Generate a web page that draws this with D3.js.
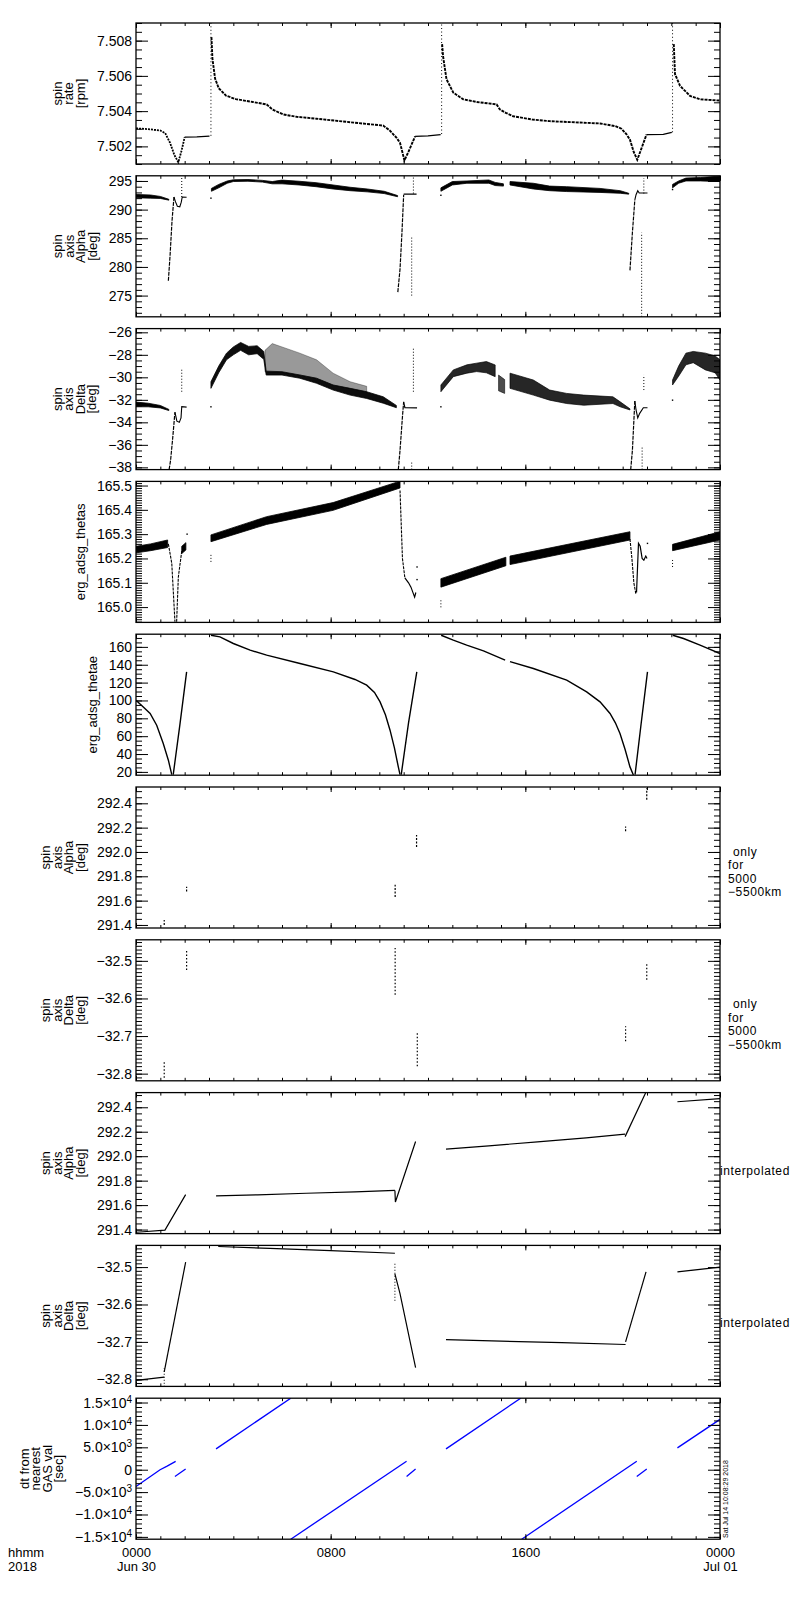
<!DOCTYPE html>
<html><head><meta charset="utf-8">
<script src="https://cdn.jsdelivr.net/npm/d3@7"></script>
<style>
body{margin:0;background:#fff}
text{font-family:"Liberation Sans",Arial,sans-serif}
</style>
</head><body>
<svg id="c" width="800" height="1600"></svg>
<script>
// ===== DATA (time in hours since 2018-06-30 00:00 UT) =====
// x-axis tick labels
const xTickHours = [0, 8, 16, 24];
// Panel 1: spin rate [rpm]
const rateTicks = [7.502, 7.504, 7.506, 7.508];
const rateSeg1 = [[0,7.50302],[0.5,7.50298],[1.0,7.5029],[1.2,7.50275],[1.4,7.5022],[1.58,7.5015],[1.74,7.5011],[1.88,7.5018],[2.0,7.50252]];
const rateFlat1 = [[2.0,7.50252],[2.5,7.50254],[3.02,7.50258]];
const rateSeg2 = [[3.1,7.5082],[3.14,7.5070],[3.18,7.50657],[3.25,7.50585],[3.4,7.5053],[3.7,7.50488],[4.1,7.50468],[4.8,7.50452],[5.37,7.50438],[5.6,7.5041],[6.05,7.50381],[6.6,7.50368],[7.42,7.50357],[8.8,7.50337],[10.16,7.50318],[10.43,7.5029],[10.7,7.5025],[10.85,7.5022],[10.96,7.5016],[11.03,7.5012],[11.2,7.5017],[11.47,7.50257]];
const rateFlat2 = [[11.47,7.50257],[12.0,7.5026],[12.52,7.50267]];
const rateSeg3 = [[12.58,7.5078],[12.62,7.5071],[12.76,7.50581],[13.04,7.50505],[13.45,7.50467],[14.0,7.50452],[14.82,7.50438],[14.95,7.5041],[15.2,7.5039],[15.5,7.50371],[16.3,7.50352],[17.0,7.50343],[19.07,7.5033],[19.7,7.50315],[19.95,7.5030],[20.15,7.5027],[20.3,7.50238],[20.45,7.5017],[20.6,7.50124],[20.75,7.5018],[20.98,7.50267]];
const rateFlat3 = [[20.98,7.50267],[21.67,7.50268],[22.02,7.5028]];
const rateSeg4 = [[22.1,7.5078],[22.15,7.5061],[22.36,7.50543],[22.77,7.50486],[23.18,7.50467],[24,7.5046]];
const rateSpikes = [[3.08,7.5026,7.509],[12.56,7.5027,7.509],[22.05,7.5028,7.509]];

// Panel 2: spin axis Alpha [deg]
const alphaTicks = [275, 280, 285, 290, 295];
const alphaBand1 = [[0,292.05,292.65],[0.6,292.0,292.55],[1.0,291.95,292.3],[1.35,291.65,291.8]];
const alphaDrop1 = [[1.33,277.6],[1.4,282],[1.48,288],[1.56,292.2]];
const alphaKink1 = [[1.56,292.2],[1.62,291.4],[1.7,290.6],[1.8,290.5],[1.86,291.3],[1.9,292.2],[2.08,292.15]];
const alphaBand2 = [[3.1,293.2,293.7],[3.4,293.8,294.4],[3.75,294.6,295.0],[4.0,294.9,295.2],[4.6,294.95,295.25],[5.2,294.8,295.1],[5.6,294.5,294.9],[6.0,294.5,295.15],[6.7,294.3,294.95],[7.4,294.0,294.7],[8.1,293.6,294.3],[8.8,293.3,293.9],[9.5,293.1,293.6],[10.2,292.8,293.2],[10.75,292.25,292.45]];
const alphaDrop2 = [[10.76,275.6],[10.85,279.6],[10.93,286],[11.0,292.6]];
const alphaFlat2 = [[11.0,292.7],[11.53,292.7]];
const alphaBand3a = [[12.53,293.2,293.8],[13.0,294.3,294.9],[13.6,294.6,295.0],[14.5,294.6,295.17],[14.76,294.2,294.75],[15.1,294.1,294.5]];
const alphaBand3b = [[15.37,294.3,294.9],[16.33,293.6,294.6],[17.0,293.3,294.1],[17.7,293.15,294.0],[19.07,293.0,293.7],[19.9,292.85,293.3],[20.25,292.7,292.85]];
const alphaDrop3 = [[20.3,279.4],[20.4,286],[20.5,291.7]];
const alphaKink3 = [[20.5,291.7],[20.55,292.6],[20.62,293.3],[20.68,292.9],[21.02,292.9]];
const alphaBand4 = [[22.05,293.8,294.4],[22.3,294.6,295.0],[22.6,295.0,295.5],[23.2,295.0,295.6],[24,294.9,295.85]];
const alphaSpikes = [[1.88,292.2,295.6],[11.40,292.8,295.6],[11.33,275.0,285.4],[20.87,292.8,295.5],[20.78,271.3,286]];
const alphaDots = [[3.08,292.0],[12.53,292.5],[22.05,293.5]];

// Panel 3: spin axis Delta [deg]
const deltaTicks = [-38, -36, -34, -32, -30, -28, -26];
const deltaBand1 = [[0,-32.62,-32.2],[0.5,-32.62,-32.3],[1.0,-32.72,-32.5],[1.35,-32.95,-32.85]];
const deltaDrop1 = [[1.36,-38.2],[1.42,-37.4],[1.5,-35.6],[1.6,-33.1]];
const deltaKink1 = [[1.6,-33.1],[1.68,-33.9],[1.78,-34.0],[1.85,-33.6],[1.88,-32.6],[2.08,-32.65]];
const deltaCore2 = [[3.08,-30.98,-30.39],[3.4,-29.6,-29.0],[3.72,-28.44,-27.85],[4.0,-28.0,-27.3],[4.3,-27.6,-26.9],[4.63,-28.0,-27.25],[4.98,-27.9,-27.2],[5.25,-28.4,-27.7],[5.35,-29.8,-29.45],[6.0,-29.8,-29.5],[6.73,-30.08,-29.79],[7.42,-30.53,-30.08],[8.1,-31.13,-30.68],[8.8,-31.58,-30.98],[9.48,-31.88,-31.28],[10.16,-32.3,-31.73],[10.7,-32.7,-32.5]];
const deltaCloud2 = [[5.3,-29.5,-27.6],[5.6,-29.6,-27.0],[6.0,-29.6,-27.3],[6.73,-29.8,-27.85],[7.42,-30.1,-28.44],[8.1,-30.7,-29.63],[8.8,-31.0,-30.39],[9.48,-31.3,-30.8]];
const deltaDrop2 = [[10.78,-38.2],[10.85,-36.5],[10.95,-33.5],[11.0,-32.17]];
const deltaFlat2 = [[11.0,-32.2],[11.05,-32.7],[11.55,-32.72]];
const deltaCore3a = [[12.53,-31.28,-30.68],[13.04,-29.94,-29.34],[13.6,-29.63,-28.89],[14.0,-29.49,-28.74],[14.4,-29.6,-28.6],[14.76,-29.94,-28.9]];
const deltaCore3b = [[14.9,-31.2,-29.8],[15.15,-31.43,-30.2]];
const deltaCore3c = [[15.37,-30.98,-29.63],[16.33,-31.58,-30.24],[17.0,-32.03,-31.13],[17.7,-32.33,-31.43],[18.4,-32.48,-31.58],[19.6,-32.33,-31.73],[19.9,-32.62,-32.18],[20.3,-32.9,-32.8]];
const deltaDrop3 = [[20.33,-38.2],[20.4,-36.5],[20.5,-32.1]];
const deltaKink3 = [[20.5,-32.1],[20.55,-32.9],[20.62,-33.6],[20.7,-33.2],[20.85,-32.7],[21.02,-32.7]];
const deltaCore4 = [[22.05,-30.68,-30.24],[22.3,-29.9,-29.0],[22.6,-28.89,-27.85],[22.9,-28.7,-27.7],[23.4,-29.34,-27.85],[23.8,-29.6,-28.1],[24,-30.24,-28.44]];
const deltaSpikes = [[1.88,-31.28,-29.19],[11.40,-31.28,-27.4],[11.33,-38.2,-37.5],[20.87,-31.13,-29.79],[20.8,-38.2,-36.2]];
const deltaDots = [[3.08,-32.62],[12.53,-32.62],[22.05,-32.03]];

// Panel 4: erg_adsg_thetas
const thetasTicks = [165.0, 165.1, 165.2, 165.3, 165.4, 165.5];
const thetasBand1 = [[0,165.223,165.25],[0.6,165.232,165.26],[1.3,165.245,165.276]];
const thetasV1a = [[1.33,165.26],[1.47,165.18],[1.6,164.94]];
const thetasV1b = [[1.67,164.94],[1.74,165.124],[1.88,165.23]];
const thetasBand1b = [[1.88,165.22,165.25],[2.05,165.235,165.265]];
const thetasBand2 = [[3.08,165.269,165.297],[5.37,165.34,165.372],[8.1,165.398,165.43],[10.85,165.49,165.518]];
const thetasV2a = [[10.85,165.48],[10.95,165.2],[11.05,165.12]];
const thetasV2b = [[11.05,165.12],[11.2,165.1],[11.3,165.082],[11.45,165.041],[11.5,165.06]];
const thetasBand3a = [[12.53,165.082,165.117],[15.2,165.17,165.205]];
const thetasBand3b = [[15.37,165.175,165.21],[20.3,165.276,165.31]];
const thetasV3a = [[20.3,165.28],[20.38,165.2],[20.46,165.1],[20.54,165.055]];
const thetasV3b = [[20.57,165.06],[20.65,165.262],[20.72,165.25],[20.8,165.2],[20.87,165.193],[20.95,165.21],[21.0,165.2]];
const thetasBand4 = [[22.05,165.232,165.258],[24,165.276,165.31]];
const thetasSpikes = [[3.08,165.186,165.22],[12.53,164.999,165.03],[22.05,165.165,165.2]];
const thetasDots = [[2.1,165.3],[11.55,165.165],[11.55,165.113],[21.02,165.262]];

// Panel 5: erg_adsg_thetae
const thetaeTicks = [20, 40, 60, 80, 100, 120, 140, 160];
const thetae1 = [[0,100.3],[0.3,92.8],[0.58,85.4],[0.85,72.3],[1.12,51.8],[1.33,33.1],[1.47,17.0]];
const thetae1r = [[1.53,17.0],[1.8,72],[2.08,132]];
const thetae2 = [[3.08,173],[3.45,171.2],[4.0,163.8],[4.69,156.3],[5.37,150.7],[6.74,141.4],[8.11,132],[9.0,123.5],[9.48,117.1],[9.8,109],[10.03,98.4],[10.25,84],[10.44,66.7],[10.62,47],[10.78,25.6],[10.85,17]];
const thetae2r = [[10.9,17],[11.2,75],[11.54,132]];
const thetae3a = [[12.54,173],[13.04,167.5],[13.59,161.9],[14.28,155.5],[15.17,145.1]];
const thetae3b = [[15.37,143.5],[16.33,135.8],[17.7,122.7],[18.52,109.6],[19.07,98.4],[19.48,85.4],[19.7,75],[19.89,63],[20.1,45],[20.3,25.6],[20.44,16.5]];
const thetae3r = [[20.51,17],[20.75,72],[21.02,132]];
const thetae4 = [[22.06,173],[22.5,169.4],[23.18,162],[24,152.6]];

// Panel 6: spin axis Alpha, only 5000-5500 km
const alpha2Ticks = [291.4, 291.6, 291.8, 292.0, 292.2, 292.4];
const alphaOnly = [[1.16,291.40,291.44],[2.08,291.674,291.715],[10.65,291.63,291.73],[11.53,292.04,292.14],[20.12,292.17,292.21],[20.99,292.43,292.524]];

// Panel 7: spin axis Delta, only 5000-5500 km
const delta2Ticks = [-32.8, -32.7, -32.6, -32.5];
const deltaOnly = [[1.16,-32.811,-32.767],[2.08,-32.524,-32.471],[10.65,-32.59,-32.466],[11.56,-32.78,-32.692],[20.12,-32.714,-32.674],[20.99,-32.55,-32.506]];

// Panel 8: spin axis Alpha, interpolated
const alphaInterp1 = [[0,291.378],[0.3,291.382],[1.19,291.395],[2.04,291.686]];
const alphaInterp2 = [[3.29,291.675],[5.0,291.684],[7.0,291.697],[9.0,291.709],[10.64,291.72]];
const alphaInterp3 = [[10.64,291.72],[10.66,291.625],[11.49,292.12]];
const alphaInterp4 = [[12.74,292.057],[14.5,292.085],[16.5,292.117],[18.5,292.15],[20.1,292.18]];
const alphaInterp5 = [[20.1,292.16],[20.95,292.52]];
const alphaInterp6 = [[22.25,292.445],[24,292.47]];

// Panel 9: spin axis Delta, interpolated
const deltaInterp1 = [[0,-32.803],[1.16,-32.794]];
const deltaInterp1r = [[1.16,-32.78],[2.04,-32.487]];
const deltaInterp2 = [[3.38,-32.445],[5.5,-32.45],[8.0,-32.456],[10.64,-32.463]];
const deltaInterp3 = [[10.64,-32.518],[10.85,-32.571],[11.49,-32.769]];
const deltaInterp4 = [[12.74,-32.694],[15.0,-32.698],[17.5,-32.702],[20.12,-32.707]];
const deltaInterp5 = [[20.12,-32.70],[20.96,-32.513]];
const deltaInterp6 = [[22.25,-32.513],[24,-32.5]];
const deltaInterpSpikes = [[1.16,-32.82,-32.77],[10.64,-32.59,-32.487]];

// Panel 10: dt from nearest GAS val [sec]
const dtTicks = [-15000, -10000, -5000, 0, 5000, 10000, 15000];
const dt1 = [[0,-3756],[0.99,0],[1.26,750],[1.63,1870]];
const dt2 = [[1.6,-1500],[2.04,150]];
const dt3 = [[3.29,4650],[6.36,15967]];
const dt4 = [[6.36,-15517],[11.12,1870]];
const dt5 = [[11.12,-1500],[11.49,150]];
const dt6 = [[12.74,4650],[15.81,15967]];
const dt7 = [[15.85,-15517],[20.58,1870]];
const dt8 = [[20.58,-1500],[20.99,150]];
const dt9 = [[22.25,4880],[24,11246]];

// ===== LAYOUT / STYLE =====
const H0 = Date.UTC(2018, 5, 30);
const T = h => new Date(H0 + h * 3600e3);
const X0 = 136, X1 = 720, PH = 141, PITCH = 152.8, TOP0 = 23;
const x = d3.scaleUtc().domain([T(0), T(24)]).range([X0, X1]);
const FONT = '"Liberation Sans",Arial,sans-serif';

const L = (data, w, dash) => ({type: "line", data, w: w || 1.2, dash});
const A = (data, op) => ({type: "area", data, op: op == null ? 1 : op});
const V = (data, w, dash) => ({type: "vseg", data, w: w || 1, dash: dash || "1,2"});
const D = (data) => ({type: "dots", data});

const f1 = d3.format(".1f"), f0 = d3.format("d"), f3 = d3.format(".3f");
const panels = [
  {domain:[7.501,7.509], major:rateTicks, minor:0.0005, fmt:f3, title:["spin","rate","[rpm]"],
   layers:[L(rateSeg1,1.8,"2,1"),L(rateFlat1,1.3),L(rateSeg2,1.9,"3,1"),L(rateFlat2,1.3),L(rateSeg3,1.9,"3,1"),L(rateFlat3,1.3),L(rateSeg4,1.9,"3,1"),V(rateSpikes,1,"1,2.5")]},
  {domain:[271.3,295.9], major:alphaTicks, minor:1, fmt:f0, title:["spin","axis","Alpha","[deg]"],
   layers:[A(alphaBand1),L(alphaDrop1,1.2,"4,1"),L(alphaKink1,1.1),A(alphaBand2),L(alphaDrop2,1.2,"4,1"),L(alphaFlat2,1.2),A(alphaBand3a),A(alphaBand3b),L(alphaDrop3,1.2,"4,1"),L(alphaKink3,1.1),A(alphaBand4),V(alphaSpikes),D(alphaDots)]},
  {domain:[-38.2,-25.67], major:deltaTicks, minor:0.5, fmt:f0, title:["spin","axis","Delta","[deg]"],
   layers:[A(deltaBand1),L(deltaDrop1,1.2,"4,1"),L(deltaKink1,1.1),A(deltaCloud2,0.4),A(deltaCore2,0.95),L(deltaDrop2,1.2,"4,1"),L(deltaFlat2,1.2),A(deltaCore3a,0.85),A(deltaCore3b,0.7),A(deltaCore3c,0.85),L(deltaDrop3,1.2,"4,1"),L(deltaKink3,1.1),A(deltaCore4,0.85),V(deltaSpikes),D(deltaDots)]},
  {domain:[164.937,165.517], major:thetasTicks, minor:0.01, fmt:f1, title:["erg_adsg_thetas"],
   layers:[A(thetasBand1),L(thetasV1a,1.1,"3,1"),L(thetasV1b,1.1,"3,1"),A(thetasBand1b),A(thetasBand2),L(thetasV2a,1.1,"3,1"),L(thetasV2b,1.2),A(thetasBand3a),A(thetasBand3b),L(thetasV3a,1.1,"3,1"),L(thetasV3b,1.2),A(thetasBand4),V(thetasSpikes),D(thetasDots)]},
  {domain:[16.3,174.2], major:thetaeTicks, minor:5, fmt:f0, title:["erg_adsg_thetae"],
   layers:[L(thetae1,1.4),L(thetae1r,1.4),L(thetae2,1.4),L(thetae2r,1.4),L(thetae3a,1.4),L(thetae3b,1.4),L(thetae3r,1.4),L(thetae4,1.4)]},
  {domain:[291.375,292.534], major:alpha2Ticks, minor:0.05, fmt:f1, title:["spin","axis","Alpha","[deg]"],
   right:["only","for","5000","−5500km"], rightDy:-2, rightX:[733,728,728,728],
   layers:[V(alphaOnly,1.2,"2,1.5")]},
  {domain:[-32.819,-32.444], major:delta2Ticks, minor:0.01, fmt:f1, title:["spin","axis","Delta","[deg]"],
   right:["only","for","5000","−5500km"], rightDy:-2, rightX:[733,728,728,728],
   layers:[V(deltaOnly,1.2,"1.5,2")]},
  {domain:[291.367,292.52], major:alpha2Ticks, minor:0.05, fmt:f1, title:["spin","axis","Alpha","[deg]"],
   right:["interpolated"], rightDy:11.5, rightX:[720],
   layers:[L(alphaInterp1),L(alphaInterp2),L(alphaInterp3),L(alphaInterp4),L(alphaInterp5),L(alphaInterp6)]},
  {domain:[-32.819,-32.442], major:delta2Ticks, minor:0.01, fmt:f1, title:["spin","axis","Delta","[deg]"],
   right:["interpolated"], rightDy:11.5, rightX:[720],
   layers:[L(deltaInterp1),L(deltaInterp1r),L(deltaInterp2),L(deltaInterp3),L(deltaInterp4),L(deltaInterp5),L(deltaInterp6),V(deltaInterpSpikes,1,"1,2")]},
  {domain:[-15517,15967], major:dtTicks, minor:1000, sci:true, title:["dt from","nearest","GAS val","[sec]"], color:"#0000ff",
   layers:[L(dt1,1.3),L(dt2,1.3),L(dt3,1.3),L(dt4,1.3),L(dt5,1.3),L(dt6,1.3),L(dt7,1.3),L(dt8,1.3),L(dt9,1.3)]}
];

function sciParts(d){
  if (d === 0) return ["0", ""];
  const e = Math.floor(Math.log10(Math.abs(d)) + 1e-9);
  const m = d / Math.pow(10, e);
  return [(m < 0 ? "−" : "") + Math.abs(m).toFixed(1) + "×10", String(e)];
}
function minorTicks(dom, step){
  const lo = Math.min(...dom), hi = Math.max(...dom);
  return d3.range(Math.ceil(lo/step - 1e-9), Math.floor(hi/step + 1e-9) + 1).map(k => +(k*step).toFixed(6));
}

const svg = d3.select("#c");
const defs = svg.append("defs");
const xMajor = x.ticks(d3.utcHour.every(8));
const xMinor = x.ticks(d3.utcHour.every(1));

function styleAxis(g){
  g.select(".domain").remove();
  g.selectAll(".tick line").attr("stroke", "#000").attr("stroke-width", 1);
  g.attr("font-family", FONT).attr("font-size", 14);
  g.selectAll(".tick text").attr("fill", "#000");
}

panels.forEach((p, i) => {
  const top = TOP0 + i * PITCH, bot = top + PH;
  const y = d3.scaleLinear().domain(p.domain).range([bot, top]);
  const g = svg.append("g");
  const cid = "clip" + i;
  defs.append("clipPath").attr("id", cid).append("rect")
    .attr("x", X0).attr("y", top).attr("width", X1 - X0).attr("height", PH);
  const dg = g.append("g").attr("clip-path", `url(#${cid})`);
  const col = p.color || "#000";
  const px = d => x(T(d[0]));
  p.layers.forEach(Ly => {
    if (Ly.type === "line") {
      dg.append("path").datum(Ly.data)
        .attr("d", d3.line().x(px).y(d => y(d[1])))
        .attr("fill", "none").attr("stroke", col).attr("stroke-width", Ly.w)
        .attr("stroke-dasharray", Ly.dash || null);
    } else if (Ly.type === "area") {
      dg.append("path").datum(Ly.data)
        .attr("d", d3.area().x(px).y0(d => y(d[1])).y1(d => y(d[2])))
        .attr("fill", col).attr("fill-opacity", Ly.op)
        .attr("stroke", col).attr("stroke-width", 0.8).attr("stroke-opacity", Ly.op);
    } else if (Ly.type === "vseg") {
      dg.selectAll(null).data(Ly.data).join("line")
        .attr("x1", px).attr("x2", px)
        .attr("y1", d => y(d[1])).attr("y2", d => y(d[2]))
        .attr("stroke", col).attr("stroke-width", Ly.w).attr("stroke-dasharray", Ly.dash);
    } else if (Ly.type === "dots") {
      dg.selectAll(null).data(Ly.data).join("rect")
        .attr("x", d => px(d) - 0.7).attr("y", d => y(d[1]) - 0.7)
        .attr("width", 1.4).attr("height", 1.4).attr("fill", col);
    }
  });

  // minor y ticks (left/right)
  const mn = minorTicks(p.domain, p.minor);
  g.append("g").attr("transform", `translate(${X0},0)`)
    .call(d3.axisLeft(y).tickValues(mn).tickSizeInner(-6).tickSizeOuter(0).tickFormat(""))
    .call(styleAxis);
  g.append("g").attr("transform", `translate(${X1},0)`)
    .call(d3.axisRight(y).tickValues(mn).tickSizeInner(-6).tickSizeOuter(0).tickFormat(""))
    .call(styleAxis);
  // major y ticks
  const la = g.append("g").attr("transform", `translate(${X0},0)`)
    .call(d3.axisLeft(y).tickValues(p.major).tickSizeInner(-12).tickSizeOuter(0).tickPadding(4)
      .tickFormat(p.sci ? (() => "") : p.fmt))
    .call(styleAxis);
  if (p.sci) {
    la.selectAll(".tick text").each(function(d){
      const [m, e] = sciParts(d);
      const t = d3.select(this).text(m);
      if (e !== "") t.append("tspan").attr("dy", "-0.5em").attr("font-size", 10).text(e);
    });
  }
  g.append("g").attr("transform", `translate(${X1},0)`)
    .call(d3.axisRight(y).tickValues(p.major).tickSizeInner(-12).tickSizeOuter(0).tickFormat(""))
    .call(styleAxis);
  // x ticks top/bottom
  g.append("g").attr("transform", `translate(0,${bot})`)
    .call(d3.axisBottom(x).tickValues(xMinor).tickSizeInner(-3).tickSizeOuter(0).tickFormat(""))
    .call(styleAxis);
  g.append("g").attr("transform", `translate(0,${top})`)
    .call(d3.axisTop(x).tickValues(xMinor).tickSizeInner(-3).tickSizeOuter(0).tickFormat(""))
    .call(styleAxis);
  const last = i === panels.length - 1;
  const xb = g.append("g").attr("transform", `translate(0,${bot})`)
    .call(d3.axisBottom(x).tickValues(xTickHours.map(T)).tickSizeInner(-5).tickSizeOuter(0).tickPadding(9)
      .tickFormat(last ? d3.utcFormat("%H%M") : ""))
    .call(styleAxis);
  if (last) {
    xb.attr("font-size", 13);
    xb.selectAll(".tick text").each(function(d){
      if (d.getUTCHours() === 0)
        d3.select(this).append("tspan").attr("x", 0).attr("dy", 14).text(d3.utcFormat("%b %d")(d));
    });
  }
  g.append("g").attr("transform", `translate(0,${top})`)
    .call(d3.axisTop(x).tickValues(xMajor).tickSizeInner(-5).tickSizeOuter(0).tickFormat(""))
    .call(styleAxis);

  // frame
  g.append("rect").attr("x", X0).attr("y", top).attr("width", X1 - X0).attr("height", PH)
    .attr("fill", "none").attr("stroke", "#000").attr("stroke-width", 1.3);

  // y title (rotated, multi-line)
  const bb = la.node().getBBox();
  const tickLeft = X0 + bb.x;
  const lh = 11.5;
  const bx = tickLeft - 12;
  const cy = (top + bot) / 2;
  const tt = g.append("text").attr("transform", `translate(${bx},${cy}) rotate(-90)`)
    .attr("text-anchor", "middle").attr("font-size", 13).attr("font-family", FONT);
  p.title.forEach((s, k) => {
    tt.append("tspan").attr("x", 0).attr("y", -(p.title.length - 1 - k) * lh).text(s);
  });

  // right label
  if (p.right) {
    const rt = g.append("text").attr("font-size", 12).attr("font-family", FONT).attr("letter-spacing", 0.6);
    p.right.forEach((s, k) => {
      rt.append("tspan").attr("x", p.rightX[k]).attr("y", cy + p.rightDy + k * 13.5).text(s);
    });
  }
});

// bottom-left labels
svg.append("text").attr("x", 8).attr("y", 1557).attr("font-size", 13).attr("font-family", FONT).text("hhmm");
svg.append("text").attr("x", 8).attr("y", 1571).attr("font-size", 13).attr("font-family", FONT).text("2018");
// timestamp
svg.append("text").attr("transform", "translate(728,1538) rotate(-90)")
  .attr("font-size", 7).attr("font-family", FONT).text("Sat Jul 14 10:08:29 2018");
</script>
</body></html>
